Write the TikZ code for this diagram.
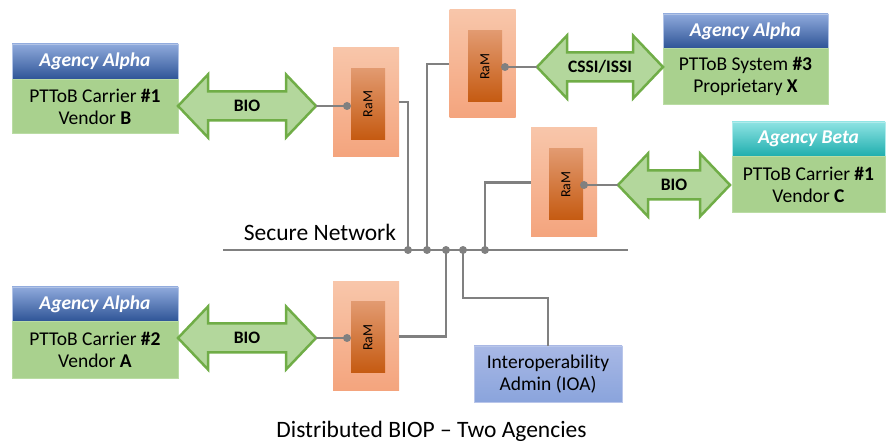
\documentclass[tikz,border=0pt]{standalone}
\usepackage{fontspec}
\setmainfont{Carlito}
\usepackage{tikz}
\usetikzlibrary{positioning, calc}
\definecolor{hdrtop}{HTML}{8FAADC}
\definecolor{hdrbot}{HTML}{2F5597}
\definecolor{tealtop}{HTML}{8EE3E3}
\definecolor{tealbot}{HTML}{1FAEAE}
\definecolor{bodyfill}{HTML}{A9D18E}
\definecolor{bodyline}{HTML}{BADCA4}
\definecolor{arrfill}{HTML}{B3D79C}
\definecolor{arrline}{HTML}{70AD47}
\definecolor{ramtop}{HTML}{F8C6AA}
\definecolor{rambot}{HTML}{F4A47D}
\definecolor{coretop}{HTML}{E29A70}
\definecolor{corebot}{HTML}{C55A11}
\definecolor{ioatop}{HTML}{A8B8E5}
\definecolor{ioabot}{HTML}{8AA4DC}
\definecolor{wiregray}{HTML}{808080}

\tikzset{
  hdr/.style={draw=hdrtop!70!white, line width=0.6pt, top color=hdrtop, bottom color=hdrbot,
    text=white, font=\fontsize{19.5}{22}\selectfont\bfseries\itshape, inner sep=0pt},
  hdrbeta/.style={hdr, draw=tealtop!70!white, top color=tealtop, bottom color=tealbot},
  agbody/.style={draw=bodyline, line width=0.6pt, fill=bodyfill, align=center,
    font=\fontsize{19.5}{22}\selectfont, inner sep=0pt},
  ramouter/.style={top color=ramtop, bottom color=rambot, minimum width=66pt,
    minimum height=109pt, inner sep=0pt},
  ramcore/.style={top color=coretop, bottom color=corebot, minimum width=34pt,
    minimum height=71pt, inner sep=0pt, font=\fontsize{14}{14}\selectfont},
  wireline/.style={draw=wiregray, line width=2.5pt},
  wiredot/.style={fill=wiregray},
  dblarr/.style={draw=arrline, fill=arrfill, line width=2.5pt, line join=miter},
  arrlabel/.style={font=\fontsize{17.5}{18}\selectfont\bfseries},
  ioabox/.style={draw=ioatop!80!white, line width=0.6pt, top color=ioatop, bottom color=ioabot,
    align=center, font=\fontsize{19.5}{22}\selectfont, minimum width=148pt, minimum height=56pt},
}

\begin{document}
\begin{tikzpicture}[x=1pt, y=-1pt]
  \useasboundingbox (0,0) rectangle (886,443);

  % agency boxes
  \node[hdr, minimum width=166pt, minimum height=35pt] (hdrA1) at (95,61.5) {Agency Alpha};
  \node[agbody, minimum width=166pt, minimum height=54pt, below=0pt of hdrA1] (bodyA1)
    {PTToB Carrier \textbf{\#1}\\Vendor \textbf{B}};
  \node[hdr, minimum width=166pt, minimum height=34pt] (hdrA2) at (95,304) {Agency Alpha};
  \node[agbody, minimum width=166pt, minimum height=57pt, below=0pt of hdrA2] (bodyA2)
    {PTToB Carrier \textbf{\#2}\\Vendor \textbf{A}};
  \node[hdr, minimum width=165pt, minimum height=34pt] (hdrA3) at (745.5,31) {Agency Alpha};
  \node[agbody, minimum width=165pt, minimum height=56pt, below=0pt of hdrA3] (bodyA3)
    {PTToB System \textbf{\#3}\\Proprietary \textbf{X}};
  \node[hdrbeta, minimum width=153pt, minimum height=34pt] (hdrB) at (808.5,139) {Agency Beta};
  \node[agbody, minimum width=153pt, minimum height=56pt, below=0pt of hdrB] (bodyB)
    {PTToB Carrier \textbf{\#1}\\Vendor \textbf{C}};

  % interface arrows
  \foreach \nm/\xa/\xb/\y/\lab in {bio1/178/316/106/BIO, cssi/537/663/67/{CSSI/ISSI},
                                   bio3/618/730/185/BIO, bio2/178/316/338/BIO} {
    \filldraw[dblarr] (\xa,\y) -- ({\xa+30},{\y-31.5}) -- ({\xa+30},{\y-14.5})
      -- ({\xb-30},{\y-14.5}) -- ({\xb-30},{\y-31.5}) -- (\xb,\y) -- ({\xb-30},{\y+31.5})
      -- ({\xb-30},{\y+14.5}) -- ({\xa+30},{\y+14.5}) -- ({\xa+30},{\y+31.5}) -- cycle;
    \coordinate (\nm-l) at (\xa,\y);
    \coordinate (\nm-r) at (\xb,\y);
    \node[arrlabel] (\nm) at ({(\xa+\xb)/2},\y) {\lab};
  }

  % RaM units
  \node[ramouter] (ramo1) at (366,102) {};
  \node[ramcore] (rami1) at (368,104) {\rotatebox{90}{RaM}};
  \node[ramouter, minimum height=108pt] (ramo2) at (482.5,64) {};
  \node[ramcore] (rami2) at (485,66.5) {\rotatebox{90}{RaM}};
  \node[ramouter] (ramo3) at (564,182.5) {};
  \node[ramcore] (rami3) at (566,184.5) {\rotatebox{90}{RaM}};
  \node[ramouter] (ramo4) at (366,336.5) {};
  \node[ramcore] (rami4) at (368,337.5) {\rotatebox{90}{RaM}};

  \node[ioabox] (ioa) at (548,374) {Interoperability\\Admin (IOA)};

  % secure network
  \coordinate (netW) at (223,250);
  \coordinate (netE) at (628,250);
  \draw[wireline] (netW) -- (netE);
  \node[anchor=base, font=\fontsize{23.5}{24}\selectfont] (netlab) at (320,241) {Secure Network};
  \coordinate (net1) at (408,250);
  \coordinate (net2) at (427,250);
  \coordinate (net4) at (446,250);
  \coordinate (net5) at (463,250);
  \coordinate (net3) at (485,250);
  \coordinate (bend) at (463,298);
  \draw[wireline] (ramo1.east) -| (net1);
  \draw[wireline] (ramo2.west) -| (net2);
  \draw[wireline] (ramo3.west) -| (net3);
  \draw[wireline] (ramo4.east) -| (net4);
  \draw[wireline] (net5) -- (bend) -| (ioa.north);
  \foreach \p in {net1, net2, net3, net4, net5}
    \fill[wiredot] (\p) circle (4pt);

  % RaM taps
  \coordinate (tap1) at (347,106);
  \coordinate (tap2) at (505,67);
  \coordinate (tap3) at (584,185);
  \coordinate (tap4) at (347,338);
  \draw[wireline] (tap1) -- (bio1-r);
  \draw[wireline] (tap2) -- (cssi-l);
  \draw[wireline] (tap3) -- (bio3-l);
  \draw[wireline] (tap4) -- (bio2-r);
  \foreach \p in {tap1, tap2, tap3, tap4}
    \fill[wiredot] (\p) circle (4pt);

  \node[anchor=base, font=\fontsize{23.5}{24}\selectfont] (caption) at (431.5,437)
    {Distributed BIOP -- Two Agencies};
\end{tikzpicture}
\end{document}
